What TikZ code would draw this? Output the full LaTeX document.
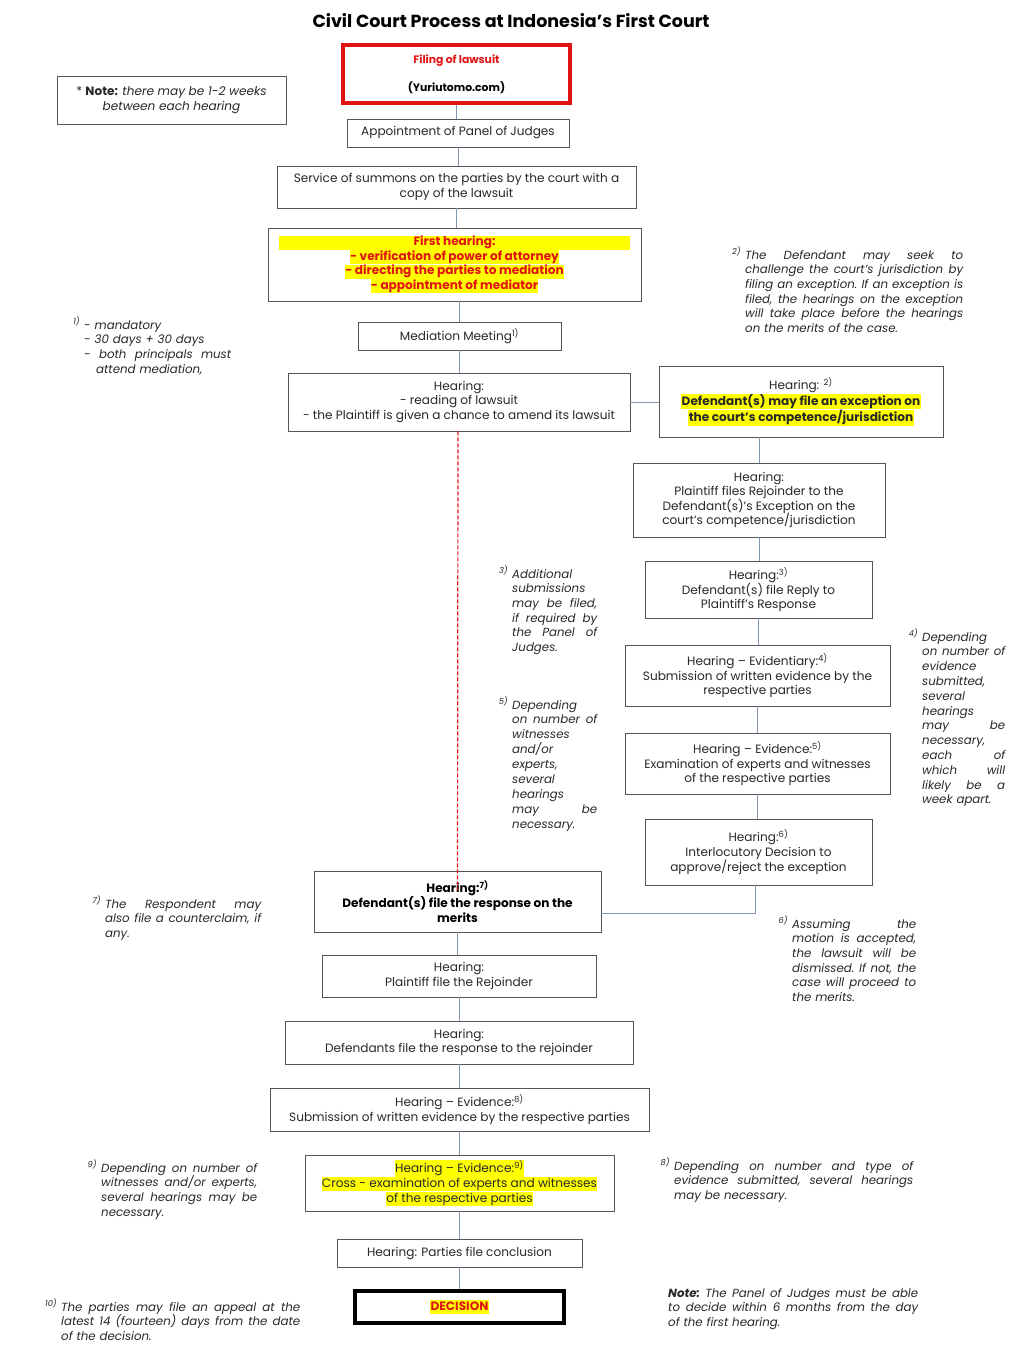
\documentclass[tikz,border=0pt]{standalone}
\usepackage{fontspec}
\setmainfont{Poppins}
\definecolor{cred}{RGB}{225,20,20}
\definecolor{hl}{RGB}{255,255,0}
\definecolor{linkc}{RGB}{130,150,175}
\definecolor{bord}{RGB}{85,85,85}
\definecolor{ntext}{RGB}{40,40,40}
\newlength\nw
\newcommand\J[1]{{\spaceskip=\fontdimen2\font plus 1fil\xspaceskip=\fontdimen2\font plus 1fil\makebox[\nw][s]{#1}}}
\newcommand\mk[1]{\llap{\textsuperscript{#1}\hspace{4pt}}}
\newcommand\hlb[1]{{\setlength\fboxsep{0.4pt}\colorbox{hl}{\rule[-3.4pt]{0pt}{13pt}#1}}}
\begin{document}
\begin{tikzpicture}[x=1pt,y=-1pt,
 box/.style={draw=bord,line width=0.8pt,inner sep=1pt,align=center,font=\fontsize{12.1}{14.6}\selectfont,text=ntext},
 link/.style={draw=linkc,line width=0.8pt},
 note/.style={inner sep=0pt,align=left,anchor=base west,text width=#1,execute at begin node={\setlength\nw{#1}\frenchspacing},font=\fontsize{11.8}{14.7}\selectfont\itshape,text=ntext}]
\useasboundingbox (0,0) rectangle (1024,1357);
\fill[white] (0,0) rectangle (1024,1357);

\node[font=\fontsize{17.5}{19}\selectfont\bfseries,inner sep=0pt] (title) at (511,21) {Civil Court Process at Indonesia’s First Court};

\node[draw=cred,line width=3.5pt,minimum width=227,minimum height=58,align=center,inner sep=1pt,font=\fontsize{10.8}{12}\selectfont\bfseries] (filing) at (456.5,74) {\textcolor{cred}{Filing of lawsuit}\\[14pt](Yuriutomo.com)};

\node[box,minimum width=229,minimum height=48] (notebox) at (171.5,100) {* \textbf{Note:} \textit{there may be 1-2 weeks}\\\textit{between each hearing}};

\node[box,minimum width=222,minimum height=28] (appoint) at (458,133) {Appointment of Panel of Judges};
\node[box,minimum width=359,minimum height=42] (service) at (456.5,187) {Service of summons on the parties by the court with a\\copy of the lawsuit};
\node[box,minimum width=373,minimum height=73,text=cred] (first) at (454.5,264.5) {\textbf{\hlb{\makebox[351pt]{First hearing:}}}\\\textbf{\hlb{- verification of power of attorney}}\\\textbf{\hlb{- directing the parties to mediation}}\\\textbf{\hlb{- appointment of mediator}}};
\node[box,minimum width=203,minimum height=28] (mediation) at (459.5,336) {Mediation Meeting\textsuperscript{1)}};
\node[box,minimum width=342,minimum height=58] (read) at (459,402) {Hearing:\\- reading of lawsuit\\- the Plaintiff is given a chance to amend its lawsuit};
\node[box,minimum width=284,minimum height=71] (exc) at (801,401.5) {Hearing: \textsuperscript{2)}\\\textbf{\hlb{Defendant(s) may file an exception on}}\\\textbf{\hlb{the court’s competence/jurisdiction}}};
\node[box,minimum width=252,minimum height=74] (rejoin) at (759,500) {Hearing:\\Plaintiff files Rejoinder to the\\Defendant(s)’s Exception on the\\court’s competence/jurisdiction};
\node[box,minimum width=227,minimum height=57] (reply) at (758.5,589.5) {Hearing:\textsuperscript{3)}\\Defendant(s) file Reply to\\Plaintiff’s Response};
\node[box,minimum width=265,minimum height=61] (evidtry) at (757.5,675.5) {Hearing – Evidentiary:\textsuperscript{4)}\\Submission of written evidence by the\\respective parties};
\node[box,minimum width=265,minimum height=61] (evid5) at (757.5,763.5) {Hearing – Evidence:\textsuperscript{5)}\\Examination of experts and witnesses\\of the respective parties};
\node[box,minimum width=227,minimum height=66] (interloc) at (758.5,852) {Hearing:\textsuperscript{6)}\\Interlocutory Decision to\\approve/reject the exception};
\node[box,minimum width=287,minimum height=61,text=black] (defresp) at (457.5,901.5) {\textbf{Hearing:\textsuperscript{7)}}\\\textbf{Defendant(s) file the response on the}\\\textbf{merits}};
\node[box,minimum width=274,minimum height=42] (plrej) at (459,976) {Hearing:\\Plaintiff file the Rejoinder};
\node[box,minimum width=348,minimum height=43] (defrej) at (459,1042.5) {Hearing:\\Defendants file the response to the rejoinder};
\node[box,minimum width=379,minimum height=43] (evid8) at (459.5,1109.5) {Hearing – Evidence:\textsuperscript{8)}\\Submission of written evidence by the respective parties};
\node[box,minimum width=309,minimum height=56] (cross) at (459.5,1183) {\hlb{Hearing – Evidence:\textsuperscript{9)}}\\\hlb{Cross - examination of experts and witnesses}\\\hlb{of the respective parties}};
\node[box,minimum width=245,minimum height=28] (concl) at (459.5,1253) {Hearing: Parties file conclusion};
\node[draw=black,line width=4pt,minimum width=209,minimum height=32,inner sep=1pt,font=\fontsize{12.1}{14.6}\selectfont\bfseries,text=cred] (dec) at (459.5,1307) {\hlb{DECISION}};

% connectors
\draw[link] (filing.south) -- (filing.south |- appoint.north);
\draw[link] (appoint.south) -- (appoint.south |- service.north);
\draw[link] (service.south) -- (service.south |- first.north);
\draw[link] (mediation.north |- first.south) -- (mediation.north);
\draw[link] (mediation.south) -- (mediation.south |- read.north);
\draw[link] (read.east) -- (read.east -| exc.west);
\draw[link] (rejoin.north |- exc.south) -- (rejoin.north);
\draw[link] (rejoin.south) -- (rejoin.south |- reply.north);
\draw[link] (reply.south) -- (reply.south |- evidtry.north);
\draw[link] (evidtry.south) -- (evidtry.south |- evid5.north);
\draw[link] (evid5.south) -- (evid5.south |- interloc.north);
\draw[link] ([xshift=-3pt]interloc.south) |- ([yshift=-11.5pt]defresp.east);
\draw[link] (defresp.south) -- (defresp.south |- plrej.north);
\draw[link] (plrej.south) -- (plrej.south |- defrej.north);
\draw[link] (defrej.south) -- (defrej.south |- evid8.north);
\draw[link] (evid8.south) -- (evid8.south |- cross.north);
\draw[link] (cross.south) -- (cross.south |- concl.north);
\draw[link] (concl.south) -- (concl.south |- dec.north);
\draw[draw=cred,line width=1.2pt,dash pattern=on 4pt off 2pt] ([xshift=-1pt]read.south) -- ([yshift=-20pt]defresp.north);

% notes
\node[note=218pt] (n2) at (745,259) {\mk{2)}\J{The Defendant may seek to}\\\J{challenge the court’s jurisdiction by}\\\J{filing an exception. If an exception is}\\\J{filed, the hearings on the exception}\\\J{will take place before the hearings}\\on the merits of the case.};
\node[note=147pt] (n1) at (84,329) {\mk{1)}- mandatory\\- 30 days + 30 days\\\J{- both principals must}\\\hspace*{12pt}attend mediation,};
\node[note=85pt] (n3) at (512,578) {\mk{3)}Additional\\submissions\\\J{may be filed,}\\\J{if required by}\\\J{the Panel of}\\Judges.};
\node[note=83pt,font=\fontsize{11.8}{14.8}\selectfont\itshape] (n4) at (922,641) {\mk{4)}Depending\\\J{on number of}\\evidence\\submitted,\\several\\hearings\\\J{may be}\\necessary,\\\J{each of}\\\J{which will}\\\J{likely be a}\\week apart.};
\node[note=85pt,font=\fontsize{11.8}{14.9}\selectfont\itshape] (n5) at (512,709) {\mk{5)}Depending\\\J{on number of}\\witnesses\\and/or\\experts,\\several\\hearings\\\J{may be}\\necessary.};
\node[note=156pt] (n7) at (105,908) {\mk{7)}\J{The Respondent may}\\\J{also file a counterclaim, if}\\any.};
\node[note=124pt] (n6) at (792,928) {\mk{6)}\J{Assuming the}\\\J{motion is accepted,}\\\J{the lawsuit will be}\\\J{dismissed. If not, the}\\\J{case will proceed to}\\the merits.};
\node[note=156pt] (n9) at (101,1172) {\mk{9)}\J{Depending on number of}\\\J{witnesses and/or experts,}\\\J{several hearings may be}\\necessary.};
\node[note=239pt] (n8) at (674,1170) {\mk{8)}\J{Depending on number and type of}\\\J{evidence submitted, several hearings}\\may be necessary.};
\node[note=239pt] (n10) at (61,1311) {\mk{10)}\J{The parties may file an appeal at the}\\\J{latest 14 (fourteen) days from the date}\\of the decision.};
\node[note=250pt] (nfin) at (668,1297) {\J{\textbf{Note:} The Panel of Judges must be able}\\\J{to decide within 6 months from the day}\\of the first hearing.};
\end{tikzpicture}
\end{document}
